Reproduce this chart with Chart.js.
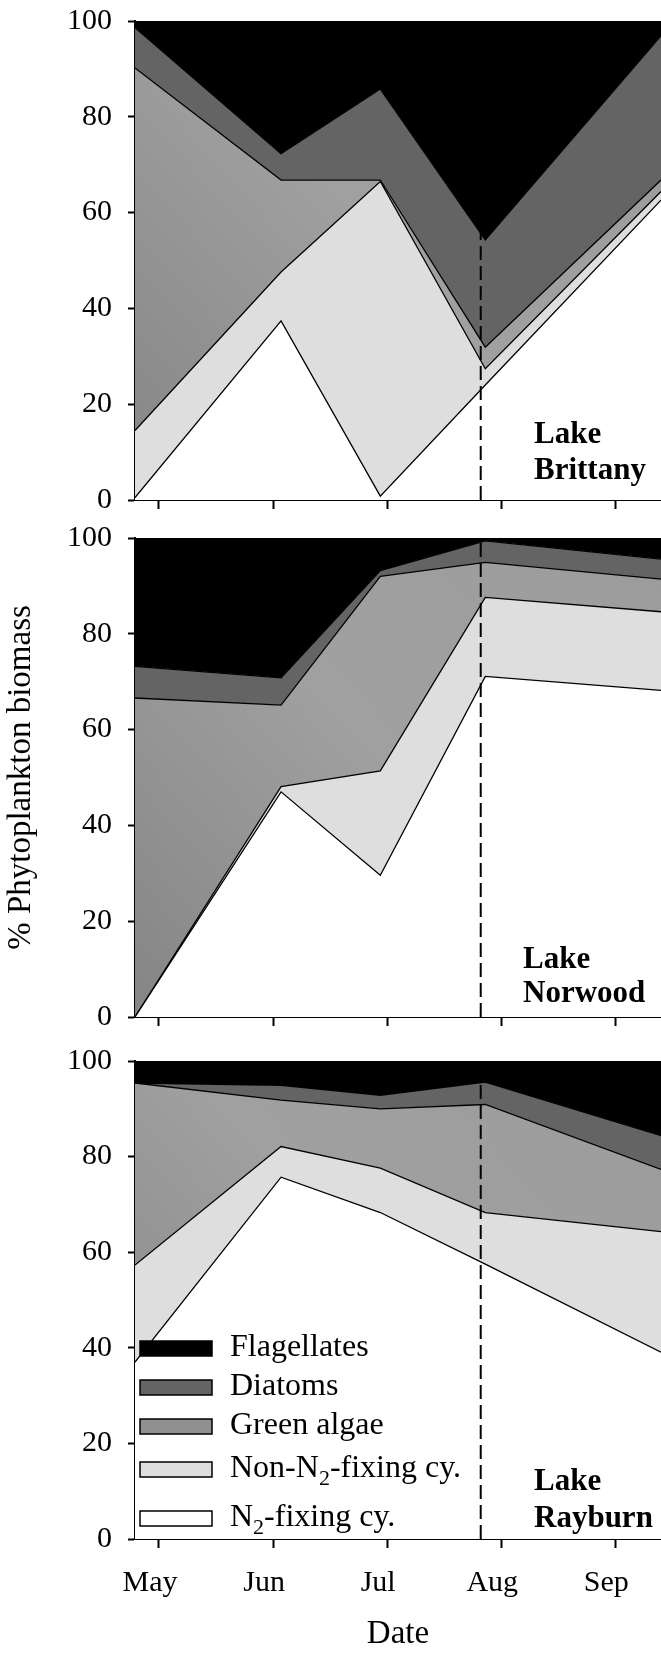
<!DOCTYPE html>
<html>
<head>
<meta charset="utf-8">
<script src="https://cdn.jsdelivr.net/npm/chart.js@4.4.1/dist/chart.umd.min.js"></script>
<style>
  body { margin: 0; background: #fff; }
  #wrap { position: relative; width: 661px; height: 1655px; }
  canvas { position: absolute; left: 0; }
</style>
</head>
<body>
<div id="wrap">
  <canvas id="c1" width="661" height="520" style="top:0px"></canvas>
  <canvas id="c2" width="661" height="523" style="top:517px"></canvas>
  <canvas id="c3" width="661" height="615" style="top:1040px"></canvas>
</div>
<script>
// ---------------------------------------------------------
// Data
// x positions are in months after the "May" tick
// ---------------------------------------------------------
const monthLabels = ["May", "Jun", "Jul", "Aug", "Sep"];
const monthTicks = [0, 1, 2, 3, 4];
const sampleDates = [-0.21, 1.07, 1.94, 2.86, 4.40];
const xMin = -0.21;
const xMax = 4.40;
const dashedDate = 2.82;

const groupLabels = ["N₂-fixing cy.", "Non-N₂-fixing cy.", "Green algae", "Diatoms", "Flagellates"];

// Lake Brittany, % of biomass per group
const brittanyN2      = [0.5, 37.4, 0.8, 24.0, 62.6];
const brittanyNonN2   = [14.0, 10.2, 65.7, 3.4, 1.8];
const brittanyGreen   = [75.7, 19.2, 0.3, 4.5, 2.4];
const brittanyDiatoms = [8.4, 5.5, 19.0, 22.4, 30.1];
const brittanyFlag    = [1.4, 27.7, 14.2, 45.7, 3.1];

// Lake Norwood
const norwoodN2      = [0, 47.0, 29.6, 71.1, 68.2];
const norwoodNonN2   = [0, 1.1, 21.8, 16.5, 16.4];
const norwoodGreen   = [66.6, 17.0, 40.6, 7.3, 6.8];
const norwoodDiatoms = [6.6, 5.7, 1.2, 4.5, 4.2];
const norwoodFlag    = [26.8, 29.2, 6.8, 0.6, 4.4];

// Lake Rayburn
const rayburnN2      = [37.0, 75.7, 68.3, 57.5, 39.1];
const rayburnNonN2   = [20.3, 6.4, 9.3, 10.8, 25.2];
const rayburnGreen   = [38.1, 9.7, 12.4, 22.6, 13.0];
const rayburnDiatoms = [0, 3.1, 2.8, 4.7, 7.1];
const rayburnFlag    = [4.6, 5.1, 7.2, 4.4, 15.6];


// ---------------------------------------------------------
// Styling
// ---------------------------------------------------------
const serif = "'Liberation Serif', 'Times New Roman', serif";
const tickFont = { family: serif, size: 30 };
const titleFont = { family: serif, size: 33 };

function greenFill(ctx) {
  const area = ctx.chart.chartArea;
  if (!area) return "#999";
  const g = ctx.chart.ctx.createLinearGradient(area.left, area.bottom, area.right, area.top);
  g.addColorStop(0, "#858585");
  g.addColorStop(0.5, "#a0a0a0");
  g.addColorStop(1, "#9c9c9c");
  return g;
}

const groupColors = ["#ffffff", "#dedede", greenFill, "#646464", "#000000"];
const legendColors = ["#ffffff", "#dedede", "#909090", "#646464", "#000000"];


// ---------------------------------------------------------
// Plugins: dashed marker, lake name, legend
// ---------------------------------------------------------
const dashedLine = {
  id: "dashedLine",
  afterDatasetsDraw(chart) {
    const { ctx, chartArea, scales } = chart;
    const x = scales.x.getPixelForValue(dashedDate);
    ctx.save();
    ctx.strokeStyle = "#000";
    ctx.lineWidth = 2;
    ctx.setLineDash([14, 6]);
    ctx.beginPath();
    ctx.moveTo(x, chartArea.bottom);
    ctx.lineTo(x, chartArea.top);
    ctx.stroke();
    ctx.restore();
  }
};

const lakeName = {
  id: "lakeName",
  afterDraw(chart, args, opts) {
    const { ctx, chartArea } = chart;
    ctx.save();
    ctx.fillStyle = "#000";
    ctx.font = "bold 31px " + serif;
    ctx.textAlign = "left";
    ctx.textBaseline = "alphabetic";
    ctx.fillText("Lake", opts.x, chartArea.top + opts.y1);
    ctx.fillText(opts.name, opts.x, chartArea.top + opts.y2);
    ctx.restore();
  }
};

// text with "₂" drawn as a real subscript
function drawSubText(ctx, text, x, y) {
  const parts = text.split("₂");
  parts.forEach((p, i) => {
    ctx.font = "32px " + serif;
    ctx.fillText(p, x, y);
    x += ctx.measureText(p).width;
    if (i < parts.length - 1) {
      ctx.font = "22px " + serif;
      ctx.fillText("2", x, y + 10);
      x += ctx.measureText("2").width;
    }
  });
}

const boxLegend = {
  id: "boxLegend",
  afterDraw(chart, args, opts) {
    if (!opts.show) return;
    const { ctx } = chart;
    const rows = [478, 429, 386, 347, 308]; // canvas y of each row, N2 first
    ctx.save();
    groupLabels.forEach((label, i) => {
      const y = rows[i];
      ctx.fillStyle = legendColors[i];
      ctx.fillRect(140, y - 7, 72, 15);
      ctx.strokeStyle = "#000";
      ctx.lineWidth = 1.5;
      ctx.strokeRect(140, y - 7, 72, 15);
      ctx.fillStyle = "#000";
      ctx.textAlign = "left";
      ctx.textBaseline = "middle";
      drawSubText(ctx, label, 230, y);
    });
    ctx.restore();
  }
};


// ---------------------------------------------------------
// Chart builder
// ---------------------------------------------------------
function makePanel(id, series, opt) {
  const datasets = series.map((vals, i) => ({
    label: groupLabels[i],
    data: sampleDates.map((d, k) => ({ x: d, y: vals[k] })),
    backgroundColor: groupColors[i],
    borderColor: "#000",
    borderWidth: 1.3,
    pointRadius: 0,
    tension: 0,
    fill: i === 0 ? "origin" : "-1"
  }));

  return new Chart(document.getElementById(id), {
    type: "line",
    data: { datasets },
    plugins: [dashedLine, lakeName, boxLegend],
    options: {
      responsive: false,
      animation: false,
      layout: { padding: { top: 21, left: 0, right: 0, bottom: 0 } },
      plugins: {
        legend: { display: false },
        tooltip: { enabled: false },
        lakeName: opt.lake,
        boxLegend: { show: !!opt.legend }
      },
      scales: {
        x: {
          type: "linear",
          min: xMin,
          max: xMax,
          afterBuildTicks: s => { s.ticks = monthTicks.map(v => ({ value: v })); },
          afterFit: s => { s.height = opt.xHeight; s.paddingLeft = 0; s.paddingRight = 0; },
          grid: { drawOnChartArea: false, tickLength: 9, tickColor: "#000", tickWidth: 2 },
          border: { display: true, color: "#000", width: 2 },
          ticks: {
            autoSkip: false,
            maxRotation: 0,
            color: "#000",
            font: tickFont,
            padding: 17,
            labelOffset: -9,
            callback: (v, i) => opt.showMonths ? monthLabels[i] : ""
          },
          title: {
            display: !!opt.xTitle,
            text: "Date",
            color: "#000",
            font: titleFont,
            padding: { top: 0, bottom: 1 }
          }
        },
        y: {
          stacked: true,
          min: 0,
          max: 100,
          // pin the axis: fixed width, no extra room for the end labels
          afterFit: s => { s.width = 135; s.paddingTop = 0; s.paddingBottom = 0; },
          grid: { drawOnChartArea: false, tickLength: 7, tickColor: "#000", tickWidth: 2 },
          border: { display: true, color: "#000", width: 2 },
          ticks: { stepSize: 20, color: "#000", font: tickFont, padding: 16 },
          title: {
            display: !!opt.yTitle,
            text: "% Phytoplankton biomass",
            color: "#000",
            font: titleFont,
            padding: { top: 2, bottom: 0 }
          }
        }
      }
    }
  });
}

makePanel("c1",
  [brittanyN2, brittanyNonN2, brittanyGreen, brittanyDiatoms, brittanyFlag],
  { xHeight: 20, lake: { name: "Brittany", x: 534, y1: 422, y2: 458 } });

makePanel("c2",
  [norwoodN2, norwoodNonN2, norwoodGreen, norwoodDiatoms, norwoodFlag],
  { xHeight: 23, yTitle: true, lake: { name: "Norwood", x: 523, y1: 430, y2: 464 } });

makePanel("c3",
  [rayburnN2, rayburnNonN2, rayburnGreen, rayburnDiatoms, rayburnFlag],
  { xHeight: 116, showMonths: true, xTitle: true, legend: true,
    lake: { name: "Rayburn", x: 534, y1: 429, y2: 466 } });
</script>
</body>
</html>
